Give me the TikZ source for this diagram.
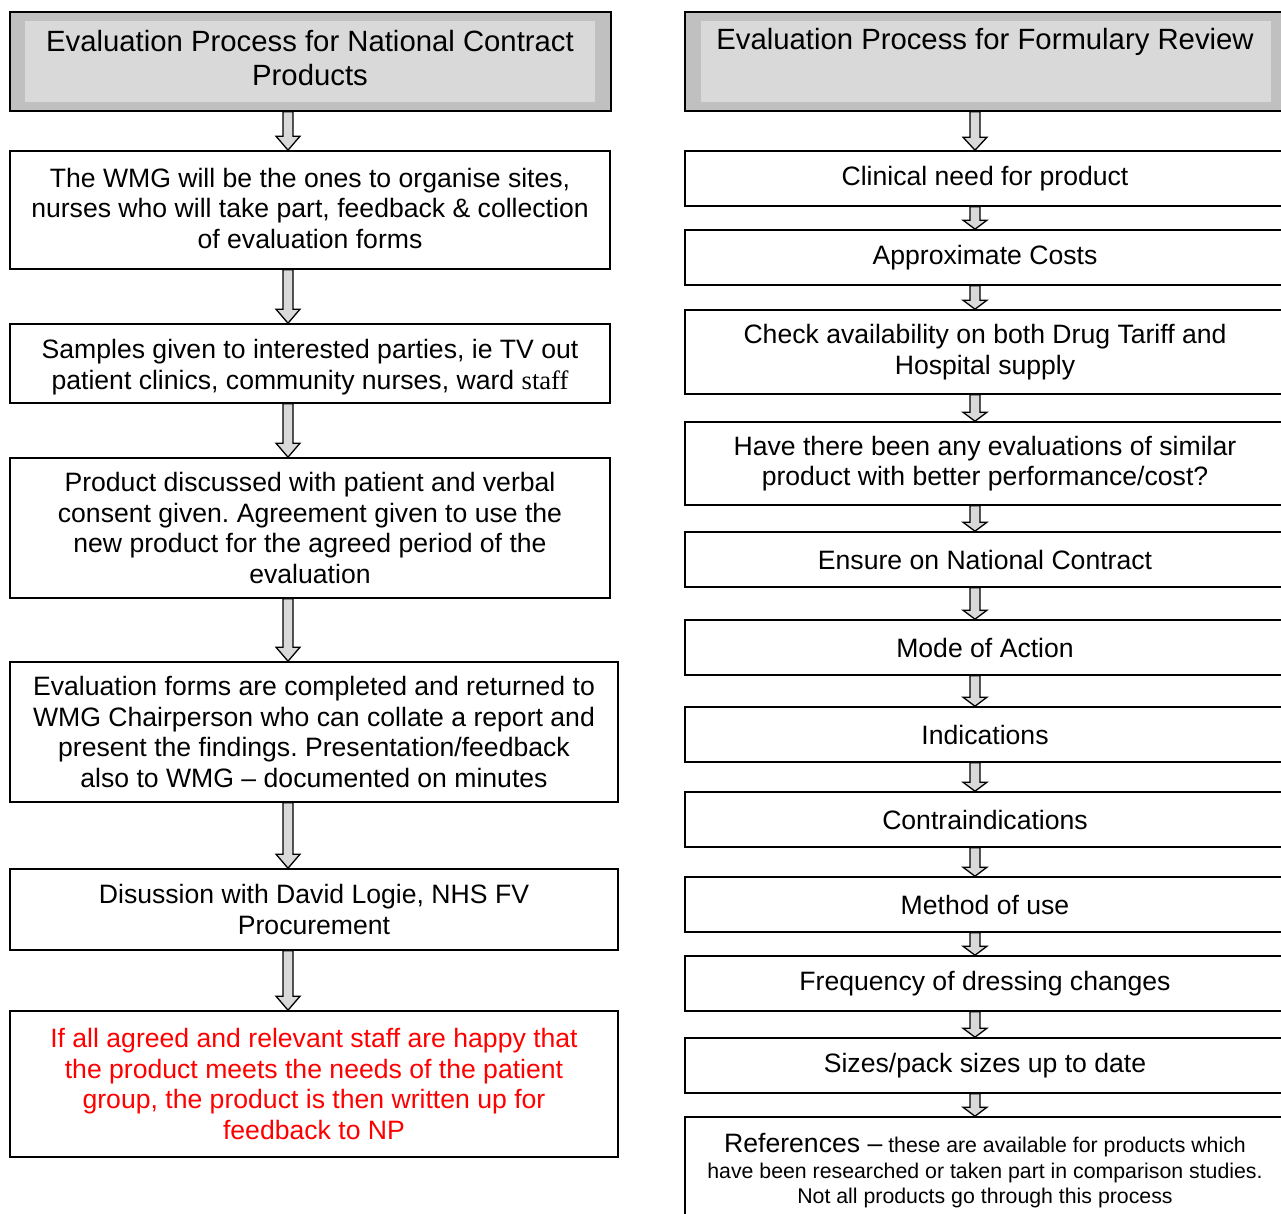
\documentclass[tikz,border=0pt]{standalone}
\usepackage{fontspec}
\setmainfont{Liberation Sans}
\newfontfamily\timesfont{Liberation Serif}
\usepackage{xcolor}
\usetikzlibrary{calc,positioning}
\frenchspacing

\definecolor{hdout}{HTML}{C0C0C0}
\definecolor{hdin}{HTML}{D9D9D9}
\definecolor{arfill}{HTML}{D9D9D9}
\newcommand{\bodyfs}{\fontsize{26.6}{30.5}\selectfont}
\newcommand{\headfs}{\fontsize{29.3}{34}\selectfont}
\newcommand{\smallfs}{\fontsize{21.3}{25.5}\selectfont}

% hollow block arrow from the bottom of #1 to the top of #2, on the axis #3, head length #4
\newcommand{\fatarrow}[4]{%
  \draw[fatar] ($(#1.south -| #3)+(-5,0)$) -- ($(#2.north -| #3)+(-5,-#4)$)
    -- ($(#2.north -| #3)+(-12,-#4)$) -- (#2.north -| #3)
    -- ($(#2.north -| #3)+(12,-#4)$) -- ($(#2.north -| #3)+(5,-#4)$)
    -- ($(#1.south -| #3)+(5,0)$) -- cycle;}

\begin{document}
\begin{tikzpicture}[
  x=1pt, y=-1pt,
  box/.style={draw=black, line width=1.6pt, fill=white, inner sep=0pt, align=center, font=\bodyfs},
  head/.style={draw=black, line width=1.6pt, fill=hdout, inner sep=0pt},
  htext/.style={align=center, font=\headfs, inner sep=0pt},
  fatar/.style={draw=black, line width=1.3pt, fill=arfill, line join=miter},
]
\useasboundingbox (0,0) rectangle (1281,1214);
\clip (0,0) rectangle (1281,1214);
\coordinate (axL) at (288,0);
\coordinate (axR) at (975,0);

% left column
\node[head, minimum width=601pt, minimum height=99pt] (hdL) at (310.5,61.5) {};
\fill[hdin] ($(hdL.north west)+(16,10)$) rectangle ($(hdL.south east)+(-17,-10)$);
\node[htext] (hdLt) at (310,58) {Evaluation Process for National Contract\\Products};

\node[box, minimum width=600pt, minimum height=118pt] (wmg) at (310,210) {};
\node[font=\bodyfs, align=center, inner sep=0pt] (wmgt) at (310,208)
  {The WMG will be the ones to organise sites,\\nurses who will take part, feedback \& collection\\of evaluation forms};
\node[box, minimum width=600pt, minimum height=79pt] (smp) at (310,363.5) {};
\node[font=\bodyfs, align=center, inner sep=0pt] (smpt) at (310,367)
  {Samples given to interested parties, ie TV out\\patient clinics, community nurses, ward {\timesfont staff}};
\node[box, minimum width=600pt, minimum height=140pt] (talk) at (310,528)
  {Product discussed with patient and verbal\\consent given. Agreement given to use the\\new product for the agreed period of the\\evaluation};
\node[box, minimum width=608pt, minimum height=140pt] (forms) at (314,732)
  {Evaluation forms are completed and returned to\\WMG Chairperson who can collate a report and\\present the findings. Presentation/feedback\\also to WMG -- documented on minutes};
\node[box, minimum width=608pt, minimum height=81pt] (logie) at (314,909.5)
  {Disussion with David Logie, NHS FV\\Procurement};
\node[box, minimum width=608pt, minimum height=146pt, text=red] (np) at (314,1084)
  {If all agreed and relevant staff are happy that\\the product meets the needs of the patient\\group, the product is then written up for\\feedback to NP};

% right column
\node[head, minimum width=600pt, minimum height=99pt] (hdR) at (985,61.5) {};
\fill[hdin] ($(hdR.north west)+(17,10)$) rectangle ($(hdR.south east)+(-15,-10)$);
\node[htext] (hdRt) at (985,42) {Evaluation Process for Formulary Review};

\node[box, minimum width=600pt, minimum height=55pt] (need) at (985,178.5) {Clinical need for product};
\node[box, minimum width=600pt, minimum height=55pt] (cost) at (985,257.5) {Approximate Costs};
\node[box, minimum width=600pt, minimum height=84pt] (avail) at (985,352)
  {Check availability on both Drug Tariff and\\Hospital supply};
\node[box, minimum width=600pt, minimum height=83pt] (simil) at (985,463.5)
  {Have there been any evaluations of similar\\product with better performance/cost?};
\node[box, minimum width=600pt, minimum height=55pt] (ensure) at (985,559.5) {Ensure on National Contract};
\node[box, minimum width=600pt, minimum height=55pt] (mode) at (985,647.5) {Mode of Action};
\node[box, minimum width=600pt, minimum height=55pt] (ind) at (985,734.5) {Indications};
\node[box, minimum width=600pt, minimum height=55pt] (contra) at (985,819.5) {Contraindications};
\node[box, minimum width=600pt, minimum height=55pt] (meth) at (985,904.5) {Method of use};
\node[box, minimum width=600pt, minimum height=55pt] (freq) at (985,983.5) {Frequency of dressing changes};
\node[box, minimum width=600pt, minimum height=55pt] (sizes) at (985,1065.5) {Sizes/pack sizes up to date};
\node[box, minimum width=600pt, minimum height=108pt, font=\smallfs] (refs) at (985,1171)
  {{\bodyfs References --} these are available for products which\\have been researched or taken part in comparison studies.\\Not all products go through this process};

% connectors
\fatarrow{hdL}{wmg}{axL}{14}
\fatarrow{wmg}{smp}{axL}{14}
\fatarrow{smp}{talk}{axL}{14}
\fatarrow{talk}{forms}{axL}{14}
\fatarrow{forms}{logie}{axL}{14}
\fatarrow{logie}{np}{axL}{14}

\fatarrow{hdR}{need}{axR}{13}
\fatarrow{need}{cost}{axR}{9}
\fatarrow{cost}{avail}{axR}{9}
\fatarrow{avail}{simil}{axR}{9}
\fatarrow{simil}{ensure}{axR}{9}
\fatarrow{ensure}{mode}{axR}{9}
\fatarrow{mode}{ind}{axR}{9}
\fatarrow{ind}{contra}{axR}{9}
\fatarrow{contra}{meth}{axR}{9}
\fatarrow{meth}{freq}{axR}{9}
\fatarrow{freq}{sizes}{axR}{9}
\fatarrow{sizes}{refs}{axR}{9}
\end{tikzpicture}
\end{document}
